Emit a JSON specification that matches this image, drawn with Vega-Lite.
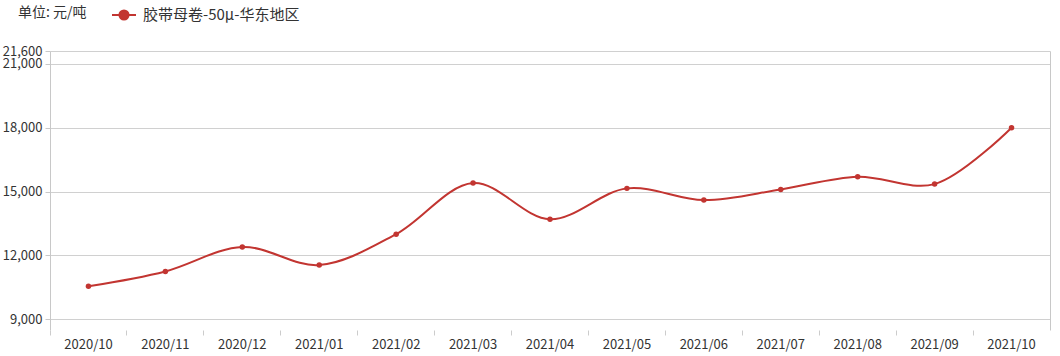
{
  "$schema": "https://vega.github.io/schema/vega-lite/v6.json",
  "width": 1000,
  "height": 279,
  "autosize": {"type": "none"},
  "padding": {"left": 50, "top": 51, "right": 10, "bottom": 26},
  "background": "white",
  "config": {
    "view": {"stroke": null},
    "font": "Noto Sans CJK SC"
  },
  "data": {
    "values": [
      {"month": "2020/10", "value": 10550, "series": "胶带母卷-50μ-华东地区"},
      {"month": "2020/11", "value": 11250, "series": "胶带母卷-50μ-华东地区"},
      {"month": "2020/12", "value": 12400, "series": "胶带母卷-50μ-华东地区"},
      {"month": "2021/01", "value": 11550, "series": "胶带母卷-50μ-华东地区"},
      {"month": "2021/02", "value": 13000, "series": "胶带母卷-50μ-华东地区"},
      {"month": "2021/03", "value": 15400, "series": "胶带母卷-50μ-华东地区"},
      {"month": "2021/04", "value": 13700, "series": "胶带母卷-50μ-华东地区"},
      {"month": "2021/05", "value": 15150, "series": "胶带母卷-50μ-华东地区"},
      {"month": "2021/06", "value": 14600, "series": "胶带母卷-50μ-华东地区"},
      {"month": "2021/07", "value": 15100, "series": "胶带母卷-50μ-华东地区"},
      {"month": "2021/08", "value": 15700, "series": "胶带母卷-50μ-华东地区"},
      {"month": "2021/09", "value": 15350, "series": "胶带母卷-50μ-华东地区"},
      {"month": "2021/10", "value": 18000, "series": "胶带母卷-50μ-华东地区"}
    ]
  },
  "encoding": {
    "x": {
      "field": "month",
      "type": "ordinal",
      "bandPosition": 0.5,
      "scale": {"type": "band", "paddingInner": 0, "paddingOuter": 0},
      "axis": {
        "title": null,
        "labelAngle": 0,
        "bandPosition": 0,
        "domain": false,
        "grid": false,
        "ticks": true,
        "tickSize": 5,
        "tickColor": "#cccccc",
        "labelPadding": 3,
        "labelFontSize": 13,
        "labelColor": "#333333",
        "labelFont": "Noto Sans CJK SC"
      }
    },
    "color": {
      "field": "series",
      "type": "nominal",
      "scale": {"range": ["#c23531"]},
      "legend": {
        "title": "单位: 元/吨",
        "titleOrient": "left",
        "titleFontSize": 14,
        "titleFontWeight": "normal",
        "titleColor": "#333333",
        "titleFont": "Noto Sans CJK SC",
        "titleBaseline": "middle",
        "titlePadding": 24,
        "orient": "none",
        "legendX": -32,
        "legendY": -49,
        "padding": 0,
        "symbolType": "M-1,0H-0.4M0.4,0H1M-0.38,0A0.38,0.38 0 1,0 0.38,0A0.38,0.38 0 1,0 -0.38,0",
        "symbolSize": 576,
        "symbolStrokeWidth": 2,
        "symbolFillColor": "#c23531",
        "symbolStrokeColor": "#c23531",
        "labelFontSize": 15,
        "labelColor": "#333333",
        "labelFont": "Noto Sans CJK SC",
        "labelOffset": 6
      }
    }
  },
  "layer": [
    {
      "mark": {"type": "line", "interpolate": "catmull-rom", "strokeWidth": 2, "color": "#b83a36"},
      "encoding": {
        "y": {
          "field": "value",
          "type": "quantitative",
          "scale": {"domain": [8500, 21600], "nice": false, "zero": false},
          "axis": {
            "title": null,
            "values": [9000, 12000, 15000, 18000, 21000, 21600],
            "format": ",.0f",
            "labelOverlap": false,
            "grid": true,
            "gridColor": "#d0d0d0",
            "domain": true,
            "domainColor": "#c8c8c8",
            "ticks": true,
            "tickSize": 5,
            "tickColor": "#c8c8c8",
            "labelPadding": 3,
            "labelFontSize": 13,
            "labelColor": "#333333",
            "labelFont": "Noto Sans CJK SC"
          }
        }
      }
    },
    {
      "mark": {"type": "point", "filled": true, "size": 30, "opacity": 1, "color": "#c23531"},
      "encoding": {
        "y": {
          "field": "value",
          "type": "quantitative",
          "axis": {
            "orient": "right",
            "title": null,
            "labels": false,
            "ticks": false,
            "grid": false,
            "domain": true,
            "domainColor": "#c8c8c8"
          }
        }
      }
    }
  ],
  "resolve": {"axis": {"y": "independent"}}
}
